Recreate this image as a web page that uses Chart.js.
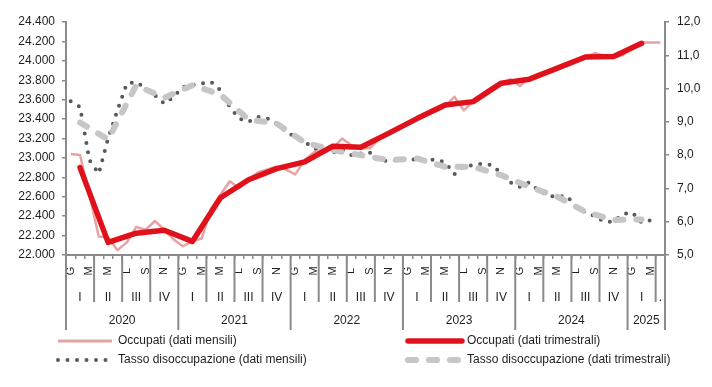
<!DOCTYPE html>
<html>
<head>
<meta charset="utf-8">
<script src="https://cdn.jsdelivr.net/npm/chart.js@4.4.1/dist/chart.umd.min.js"></script>
<style>
  body { margin: 0; background: #fff; }
  canvas { display: block; }
</style>
</head>
<body>
<canvas id="myChart" width="712" height="387"></canvas>
<script>
// categories
const years = ["2020", "2021", "2022", "2023", "2024", "2025"];
const quarters = ["I", "II", "III", "IV"];
const monthInitials = ["G", "F", "M", "A", "M", "G", "L", "A", "S", "O", "N", "D"];
const monthCount = 64; // gen 2020 - apr 2025

// Occupati, dati mensili (migliaia)
const occupatiMensili = [
  23040, 23030, 22620, 22190, 22180, 22050, 22130, 22290, 22260, 22350, 22260, 22160,
  22090, 22140, 22170, 22480, 22620, 22760, 22690, 22780, 22850, 22880, 22910, 22880,
  22830, 22980, 23060, 23080, 23100, 23200, 23130, 23100, 23100, 23200, 23260, 23310,
  23360, 23410, 23450, 23480, 23530, 23630, 23490, 23580, 23660, 23730, 23770, 23810,
  23740, 23830, 23870, 23900, 23920, 23960, 24000, 24040, 24080, 24050, 24030, 24060,
  24150, 24190, 24190, 24190
];

// Occupati, dati trimestrali (I trim 2020 - I trim 2025)
const occupatiTrimestrali = [
  22900, 22130, 22225, 22255,
  22140, 22590, 22775, 22890,
  22960, 23120, 23110, 23255,
  23405, 23545, 23580, 23770,
  23810, 23925, 24040, 24045,
  24180
];

// Tasso di disoccupazione, dati mensili (%)
const disoccMensili = [
  9.62, 9.45, 7.85, 7.45, 8.5, 9.35, 10.15, 10.2, 10.0, 9.8, 9.55, 9.75,
  10.05, 10.1, 10.15, 10.2, 9.95, 9.45, 9.1, 9.0, 9.15, 9.1, 8.95, 8.7,
  8.55, 8.4, 8.2, 8.13, 8.07, 8.17, 8.0, 8.05, 8.07, 7.8, 7.85, 7.85,
  7.9, 7.85, 7.85, 7.87, 7.79, 7.43, 7.67, 7.7, 7.75, 7.7, 7.45, 7.18,
  7.05, 7.18, 6.93, 6.78, 6.75, 6.78, 6.45, 6.28, 6.17, 6.0, 6.0, 6.23,
  6.28, 5.97, 6.05
];

// Tasso di disoccupazione, dati trimestrali (%)
const disoccTrimestrali = [
  8.98, 8.47, 10.1, 9.72,
  10.1, 9.82, 9.07, 8.95,
  8.38, 8.15, 8.0, 7.85,
  7.9, 7.65, 7.65, 7.4,
  7.05, 6.75, 6.3, 6.05,
  6.07
];

const seriesNames = [
  "Occupati (dati mensili)",
  "Occupati (dati trimestrali)",
  "Tasso disoccupazione (dati mensili)",
  "Tasso disoccupazione (dati trimestrali)"
];

const labels = [];
for (let i = 0; i < monthCount; i++) {
  labels.push(monthInitials[i % 12] + " " + years[Math.floor(i / 12)]);
}

// quarterly values sit on the middle month of each quarter
function toMonthly(q) {
  const out = new Array(monthCount).fill(null);
  q.forEach((v, k) => { out[k * 3 + 1] = v; });
  return out;
}

const textColor = "#1e1e1e";
const axisColor = "#8a8a8a";
const font = "'Liberation Sans', Arial, sans-serif";
const pink = "#e6a3a3";
const red = "#e0111b";
const darkGray = "#595959";
const lightGray = "#c6c6c6";

const styles = [
  { color: pink, width: 2.5, dash: [], cap: "butt" },
  { color: red, width: 5.5, dash: [], cap: "round" },
  { color: darkGray, width: 4, dash: [0, 9.5], cap: "round" },
  { color: lightGray, width: 6, dash: [8, 13], cap: "round" }
];

function fmtThousands(v) {
  return String(v).replace(/\B(?=(\d{3})+(?!\d))/g, ".");
}

const axisLabels = {
  id: "axisLabels",
  afterDraw(chart) {
    const ctx = chart.ctx;
    const x = chart.scales.x;
    const bottom = chart.chartArea.bottom;
    const half = (x.getPixelForValue(1) - x.getPixelForValue(0)) / 2;
    const edge = (i) => x.getPixelForValue(Math.min(i, monthCount - 1)) + (i >= monthCount ? half : -half);

    ctx.save();
    ctx.fillStyle = textColor;
    ctx.strokeStyle = axisColor;
    ctx.lineWidth = 2;

    // month initials (every other month), rotated
    ctx.font = "11px " + font;
    ctx.textAlign = "center";
    ctx.textBaseline = "middle";
    for (let i = 0; i < monthCount; i += 2) {
      ctx.save();
      ctx.translate(x.getPixelForValue(i), bottom + 16);
      ctx.rotate(-Math.PI / 2);
      ctx.fillText(monthInitials[i % 12], 0, 0);
      ctx.restore();
    }

    // quarter separators
    for (let i = 0; i <= monthCount; i += 3) {
      if (i % 12 === 0) continue;
      ctx.beginPath();
      ctx.moveTo(edge(i), bottom);
      ctx.lineTo(edge(i), bottom + 47);
      ctx.stroke();
    }
    // year separators
    const yearEdges = [];
    for (let i = 0; i <= monthCount; i += 12) yearEdges.push(i);
    if (yearEdges[yearEdges.length - 1] !== monthCount) yearEdges.push(monthCount);
    yearEdges.forEach((i) => {
      ctx.beginPath();
      ctx.moveTo(edge(i), bottom);
      ctx.lineTo(edge(i), bottom + 75);
      ctx.stroke();
    });

    // quarter labels
    ctx.font = "12px " + font;
    for (let s = 0, q = 0; s < monthCount; s += 3, q++) {
      const e = Math.min(s + 3, monthCount);
      const cx = (edge(s) + edge(e)) / 2;
      const lab = e - s === 3 ? quarters[q % 4] : ".";
      ctx.fillText(lab, cx, bottom + 43);
    }

    // year labels
    years.forEach((yr, k) => {
      const s = k * 12;
      const e = Math.min(s + 12, monthCount);
      ctx.fillText(yr, (edge(s) + edge(e)) / 2, bottom + 66);
    });

    // legend
    const rows = [341, 360];
    const cols = [{ x0: 58, x1: 112, tx: 118 }, { x0: 408, x1: 462, tx: 467 }];
    const order = [[0, 1], [2, 3]];
    ctx.textAlign = "left";
    order.forEach((row, r) => {
      row.forEach((idx, c) => {
        const st = styles[idx];
        ctx.save();
        ctx.strokeStyle = st.color;
        ctx.lineWidth = idx === 0 ? 3 : st.width;
        ctx.setLineDash(st.dash);
        ctx.lineCap = st.cap;
        ctx.beginPath();
        ctx.moveTo(cols[c].x0, rows[r]);
        ctx.lineTo(cols[c].x1, rows[r]);
        ctx.stroke();
        ctx.restore();
        ctx.fillStyle = textColor;
        ctx.fillText(seriesNames[idx], cols[c].tx, rows[r]);
      });
    });
    ctx.restore();
  }
};

function lineSet(i, data, axis, extra) {
  const st = styles[i];
  return Object.assign({
    label: seriesNames[i],
    data: data,
    yAxisID: axis,
    borderColor: st.color,
    backgroundColor: st.color,
    borderWidth: st.width,
    borderDash: st.dash,
    borderCapStyle: st.cap,
    borderJoinStyle: "round",
    pointRadius: 0,
    pointHoverRadius: 0,
    fill: false,
    tension: 0,
    spanGaps: true
  }, extra || {});
}

new Chart("myChart", {
  type: "line",
  data: {
    labels: labels,
    datasets: [
      lineSet(1, toMonthly(occupatiTrimestrali), "y"),
      lineSet(0, occupatiMensili, "y"),
      lineSet(3, toMonthly(disoccTrimestrali), "y1"),
      lineSet(2, disoccMensili, "y1")
    ]
  },
  options: {
    responsive: false,
    animation: false,
    devicePixelRatio: 1,
    layout: { padding: { top: 22, bottom: 0, left: 0, right: 0 } },
    plugins: {
      legend: { display: false },
      tooltip: { enabled: false }
    },
    scales: {
      x: {
        offset: true,
        grid: {
          offset: true,
          drawOnChartArea: false,
          drawTicks: true,
          tickLength: 4,
          color: axisColor,
          lineWidth: 1.5
        },
        border: { color: axisColor, width: 2 },
        ticks: { display: false },
        afterFit: (s) => { s.height = 132; }
      },
      y: {
        position: "left",
        min: 22000,
        max: 24400,
        ticks: {
          stepSize: 200,
          color: textColor,
          font: { family: font, size: 12 },
          padding: 7,
          callback: (v) => fmtThousands(v)
        },
        grid: { drawOnChartArea: false, tickLength: 4, color: axisColor, lineWidth: 1.5 },
        border: { color: axisColor, width: 2 },
        afterFit: (s) => { s.width = 66; }
      },
      y1: {
        position: "right",
        min: 5,
        max: 12,
        ticks: {
          stepSize: 1,
          color: textColor,
          font: { family: font, size: 12 },
          padding: 8,
          callback: (v) => v.toFixed(1).replace(".", ",")
        },
        grid: { drawOnChartArea: false, tickLength: 4, color: axisColor, lineWidth: 1.5 },
        border: { color: axisColor, width: 2 },
        afterFit: (s) => { s.width = 47; }
      }
    }
  },
  plugins: [axisLabels]
});
</script>
</body>
</html>
